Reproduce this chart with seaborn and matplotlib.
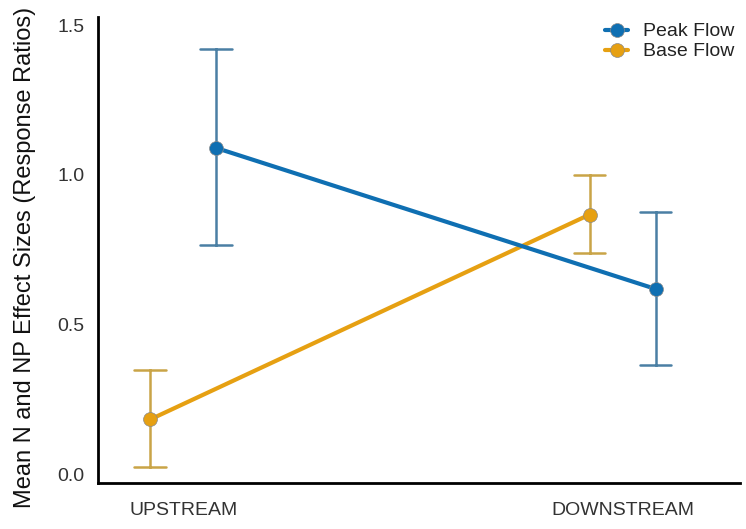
import numpy as np
import pandas as pd
import matplotlib
matplotlib.use("Agg")
import matplotlib.pyplot as plt
import seaborn as sns

# Mean response ratios with their lower/upper interval bounds
positions = ["UPSTREAM", "DOWNSTREAM"]
flows = ["Peak Flow", "Base Flow"]
peak_mean = [1.09, 0.62]
peak_low = [0.765, 0.365]
peak_high = [1.42, 0.875]
base_mean = [0.185, 0.868]
base_low = [0.025, 0.74]
base_high = [0.35, 1.0]

point_colors = {"Peak Flow": "#0f6fb2", "Base Flow": "#e6a012"}
err_colors = {"Peak Flow": "#4a7fa4", "Base Flow": "#c9a447"}

# Long table: each group holds (low, mean, high); median = mean, min/max = interval
rows = []
for flow, m, lo, hi in [("Peak Flow", peak_mean, peak_low, peak_high),
                        ("Base Flow", base_mean, base_low, base_high)]:
    for pos, mv, lv, hv in zip(positions, m, lo, hi):
        for v in (lv, mv, hv):
            rows.append({"Position": pos, "Flow": flow, "Ratio": v})
df = pd.DataFrame(rows)

sns.set_theme(style="white")
plt.rcParams["font.family"] = ["Liberation Sans", "DejaVu Sans"]

fig = plt.figure(figsize=(7.46, 5.29), dpi=100)
ax = fig.add_axes([0.1314, 0.087, 0.861, 0.881])

hue_draw = ["Base Flow", "Peak Flow"]
sns.pointplot(data=df, x="Position", y="Ratio", hue="Flow", order=positions,
              hue_order=hue_draw, palette=point_colors,
              estimator=np.median, errorbar=("pi", 100),
              dodge=0.15, capsize=0.072, markers="o",
              markersize=10, linewidth=3.0,
              err_kws={"linewidth": 1.8}, ax=ax)

# recolour interval lines in a softer tone of each series
for line in ax.lines:
    c = matplotlib.colors.to_hex(line.get_color())
    xd = np.asarray(line.get_xdata(), dtype=float)
    if len(xd) > 2 and np.isnan(xd).any():
        for flow in hue_draw:
            if c.lower() == matplotlib.colors.to_hex(point_colors[flow]).lower():
                line.set_color(err_colors[flow])
                line.set_zorder(1)
    else:
        line.set_zorder(3)
        line.set_markeredgecolor("#8a8a8a")
        line.set_markeredgewidth(0.5)

ax.set_xlim(-0.194, 1.268)
ax.set_ylim(-0.027, 1.527)
ax.set_yticks([0.0, 0.5, 1.0, 1.5])
ax.set_yticklabels(["0.0", "0.5", "1.0", "1.5"])
ax.tick_params(axis="both", labelsize=14, labelcolor="#333333", length=0, pad=10)
ax.tick_params(axis="x", pad=14)
ax.set_xlabel("")
ax.set_ylabel("Mean N and NP Effect Sizes (Response Ratios)", fontsize=17,
              color="#111111", labelpad=10)
ax.yaxis.set_label_coords(-0.096, 0.483)

for side in ["top", "right"]:
    ax.spines[side].set_visible(False)
for side in ["left", "bottom"]:
    ax.spines[side].set_color("black")
    ax.spines[side].set_linewidth(2)

handles, labels = ax.get_legend_handles_labels()
order = [labels.index(f) for f in flows]
ax.legend([handles[i] for i in order], [labels[i] for i in order],
          loc="upper right", bbox_to_anchor=(1.018, 1.025), frameon=False,
          fontsize=14, handlelength=1.2, handletextpad=0.75,
          labelspacing=0.12, labelcolor="#222222")

fig.savefig("out.png", dpi=100)
